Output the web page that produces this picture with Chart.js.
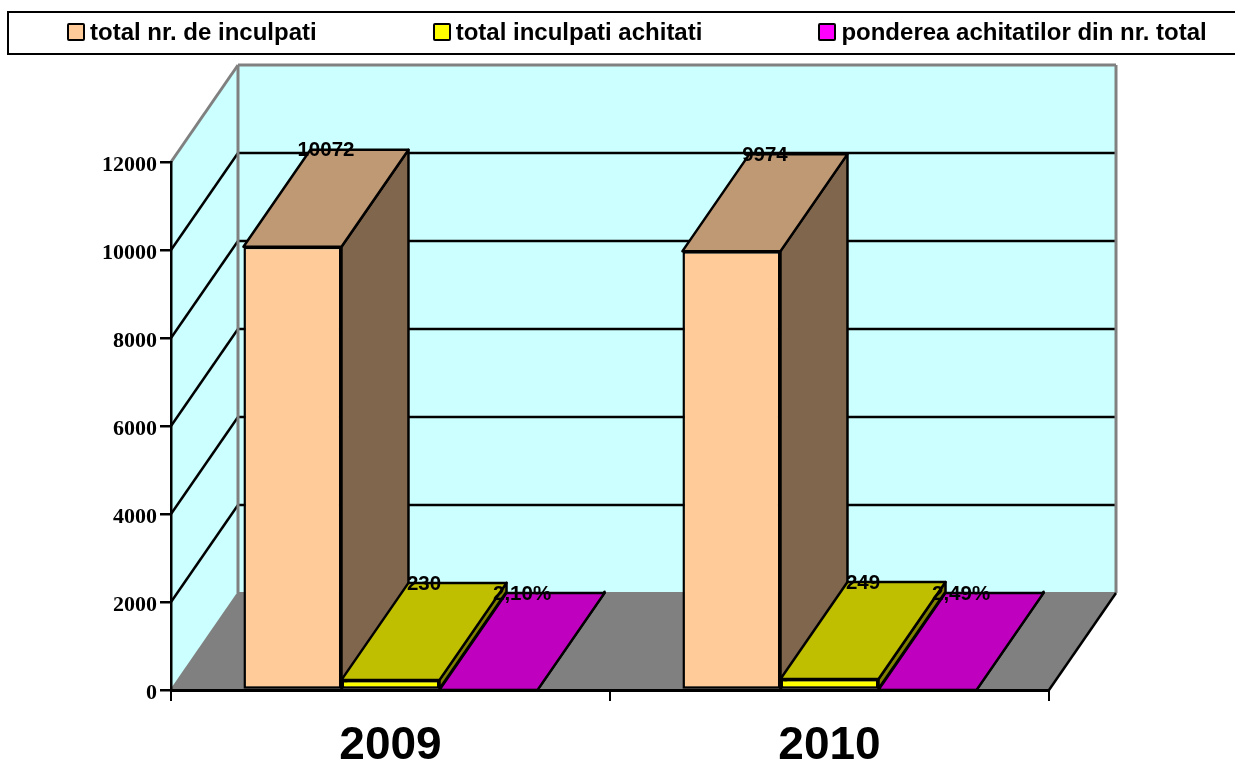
<!DOCTYPE html>
<html>
<head>
<meta charset="utf-8">
<script src="https://cdn.jsdelivr.net/npm/chart.js@4"></script>
<style>
  html, body { margin: 0; padding: 0; background: #fff; overflow: hidden; }
  #chart { position: absolute; left: 0; top: 0; }
  #legend {
    position: absolute; left: 7px; top: 11px; width: 1240px; height: 38px; padding-bottom: 2px;
    border: 2px solid #000; display: flex; align-items: center; padding-left: 58px;
    font: bold 24px "Liberation Sans", Arial, sans-serif; color: #000; white-space: nowrap;
  }
  #legend .item { display: flex; align-items: center; margin-right: 116px; }
  #legend .box { width: 14px; height: 14px; border: 2px solid #000; border-radius: 2px; margin-right: 5px; }
</style>
</head>
<body>
<canvas id="chart" width="1235" height="760"></canvas>
<div id="legend"></div>
<script>
const categories = ['2009', '2010'];
const totalInculpati = [10072, 9974];
const totalAchitati = [230, 249];
const pondere = [2.10, 2.49];
const yTicks = [0, 2000, 4000, 6000, 8000, 10000, 12000];

const seriesNames = ['total nr. de inculpati', 'total inculpati achitati', 'ponderea achitatilor din nr. total'];
const frontColors = ['#FFCC99', '#FFFF00', '#FF00FF'];
const topColors = ['#BF9973', '#BFBF00', '#BF00BF'];
const sideColors = ['#7F664C', '#7F7F00', '#7F007F'];

// 3d depth of the old excel look
const DX = 67;
const DY = 97;

function poly(ctx, pts, fill, stroke, lw) {
  ctx.beginPath();
  pts.forEach((p, i) => i ? ctx.lineTo(p[0], p[1]) : ctx.moveTo(p[0], p[1]));
  ctx.closePath();
  if (fill) { ctx.fillStyle = fill; ctx.fill(); }
  if (stroke) { ctx.strokeStyle = stroke; ctx.lineWidth = lw || 2; ctx.lineJoin = 'round'; ctx.stroke(); }
}

function line(ctx, x1, y1, x2, y2, color, lw) {
  ctx.beginPath();
  ctx.moveTo(x1, y1);
  ctx.lineTo(x2, y2);
  ctx.strokeStyle = color;
  ctx.lineWidth = lw;
  ctx.stroke();
}

const walls3d = {
  id: 'walls3d',
  beforeDraw(chart) {
    const ctx = chart.ctx;
    const a = chart.chartArea;
    const y = chart.scales.y;
    ctx.save();
    // back wall, left wall, floor
    poly(ctx, [[a.left + DX, a.top - DY], [a.right + DX, a.top - DY], [a.right + DX, a.bottom - DY], [a.left + DX, a.bottom - DY]], '#CCFFFF');
    poly(ctx, [[a.left, a.top], [a.left + DX, a.top - DY], [a.left + DX, a.bottom - DY], [a.left, a.bottom]], '#CCFFFF');
    poly(ctx, [[a.left, a.bottom], [a.right, a.bottom], [a.right + DX, a.bottom - DY], [a.left + DX, a.bottom - DY]], '#808080');
    yTicks.forEach(v => {
      if (v === 0 || v === yTicks[yTicks.length - 1]) return;
      const py = y.getPixelForValue(v);
      line(ctx, a.left, py, a.left + DX, py - DY, '#000', 2.5);
      line(ctx, a.left + DX, py - DY, a.right + DX, py - DY, '#000', 2.5);
    });
    // grey wall edges
    line(ctx, a.left, a.top, a.left + DX, a.top - DY, '#808080', 3);
    line(ctx, a.left + DX, a.top - DY, a.right + DX, a.top - DY, '#808080', 3);
    line(ctx, a.left + DX, a.top - DY, a.left + DX, a.bottom - DY, '#808080', 3);
    line(ctx, a.right + DX, a.top - DY, a.right + DX, a.bottom - DY, '#808080', 3);
    line(ctx, a.left + DX, a.bottom - DY, a.right + DX, a.bottom - DY, '#808080', 2);
    line(ctx, a.left, a.bottom, a.left + DX, a.bottom - DY, '#808080', 2);
    line(ctx, a.right, a.bottom, a.right + DX, a.bottom - DY, '#000', 2.5);
    ctx.restore();
  },
  beforeDatasetsDraw(chart) {
    const ctx = chart.ctx;
    ctx.save();
    categories.forEach((c, i) => {
      chart.data.datasets.forEach((ds, d) => {
        const bar = chart.getDatasetMeta(d).data[i];
        const l = bar.x - bar.width / 2;
        const r = bar.x + bar.width / 2;
        poly(ctx, [[r, bar.y], [r + DX, bar.y - DY], [r + DX, bar.base - DY], [r, bar.base]], sideColors[d], '#000', 2.5);
        poly(ctx, [[l, bar.y], [r, bar.y], [r + DX, bar.y - DY], [l + DX, bar.y - DY]], topColors[d], '#000', 2.5);
      });
    });
    ctx.restore();
  },
  afterDatasetsDraw(chart) {
    const ctx = chart.ctx;
    ctx.save();
    ctx.font = 'bold 20.5px "Liberation Sans", Arial, sans-serif';
    ctx.fillStyle = '#000';
    ctx.textAlign = 'center';
    ctx.textBaseline = 'middle';
    chart.data.datasets.forEach((ds, d) => {
      chart.getDatasetMeta(d).data.forEach((bar, i) => {
        const v = ds.data[i];
        const txt = d === 2 ? v.toFixed(2).replace('.', ',') + '%' : String(v);
        ctx.fillText(txt, bar.x + DX / 2, bar.y - DY + 1);
      });
    });
    ctx.restore();
  }
};

const seriesValues = [totalInculpati, totalAchitati, pondere];

new Chart(document.getElementById('chart'), {
  type: 'bar',
  data: {
    labels: categories,
    datasets: seriesNames.map((name, i) => ({
      label: name,
      data: seriesValues[i],
      backgroundColor: frontColors[i],
      borderColor: '#000',
      borderWidth: 2.5,
      borderSkipped: false,
      categoryPercentage: 0.67,
      barPercentage: 1
    }))
  },
  plugins: [walls3d],
  options: {
    responsive: false,
    animation: false,
    layout: { padding: { top: 162, right: 186, bottom: 0, left: 0 } },
    plugins: { legend: { display: false }, tooltip: { enabled: false } },
    scales: {
      x: {
        z: 1,
        afterFit(scale) { scale.height = 70; },
        border: { color: '#000', width: 3 },
        grid: { color: '#000', lineWidth: 2, drawOnChartArea: false, tickLength: 11 },
        ticks: { color: '#000', padding: 18, maxRotation: 0, font: { family: '"Liberation Sans", Arial, sans-serif', size: 46, weight: 'bold' } }
      },
      y: {
        min: 0,
        max: 12000,
        afterFit(scale) { scale.width = 171; },
        afterBuildTicks(scale) { scale.ticks = yTicks.map(v => ({ value: v })); },
        border: { color: '#000', width: 2.5 },
        grid: { color: '#000', lineWidth: 2.5, drawOnChartArea: false, tickLength: 11 },
        ticks: {
          color: '#000',
          padding: 3,
          labelOffset: 3,
          callback: v => String(v),
          font: { family: '"Liberation Serif", "Times New Roman", serif', size: 22, weight: 'bold' }
        }
      }
    }
  }
});

document.getElementById('legend').innerHTML = seriesNames.map((name, i) =>
  `<div class="item"><span class="box" style="background:${frontColors[i]}"></span>${name}</div>`).join('');
</script>
</body>
</html>
